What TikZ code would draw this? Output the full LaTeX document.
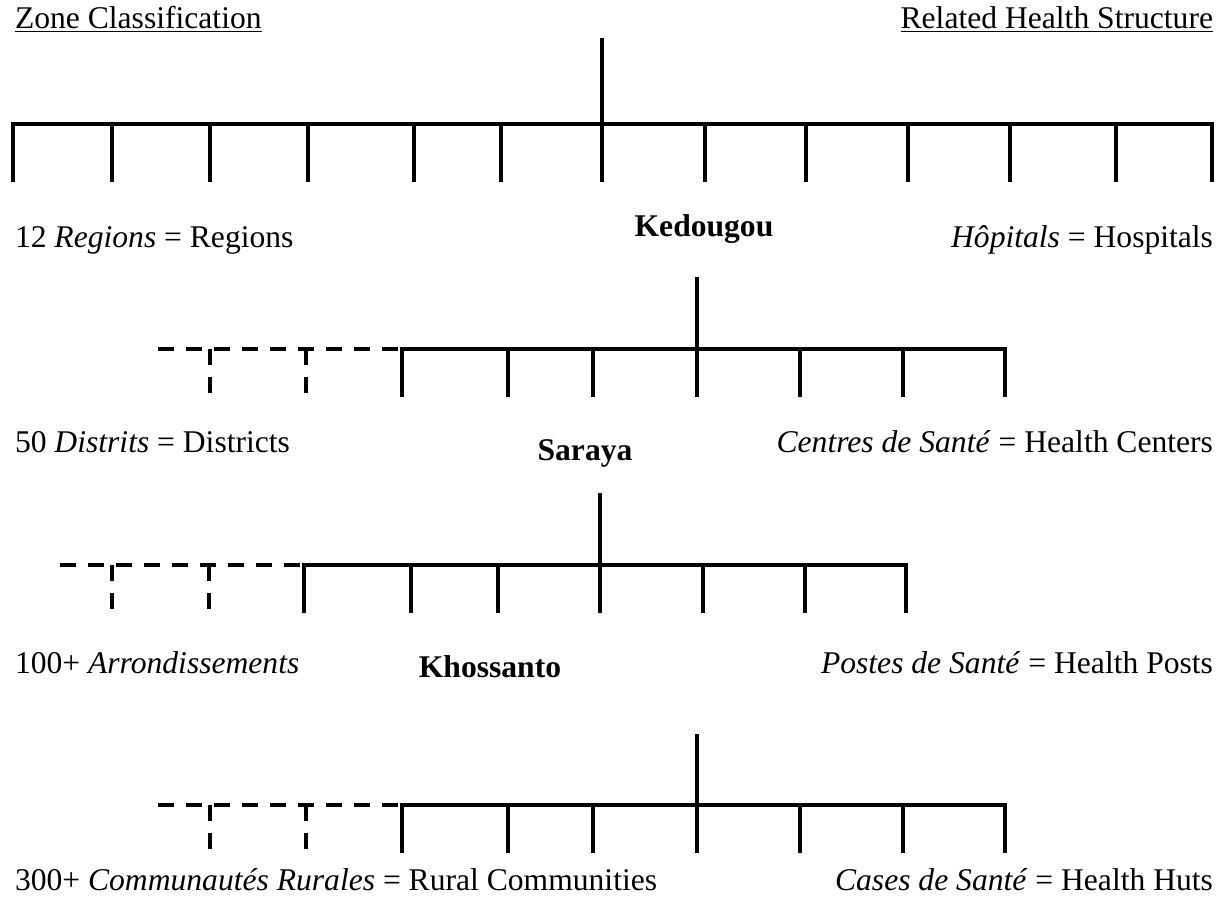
\documentclass[tikz,border=0pt]{standalone}
\usepackage{fontspec}
\setmainfont{Liberation Serif}
\usepackage{tikz}

\begin{document}
\begin{tikzpicture}[x=0.5pt,y=-0.5pt,line width=2pt,
		every node/.style={inner sep=0pt,font=\fontsize{15.8}{19}\selectfont},
		dsh/.style={dash pattern=on 8pt off 6pt}]
		\useasboundingbox (0,0) rectangle (1231,901);
		% levels: top of stem, bar, end of drops
		\def\ta{38}
		\def\ba{124}
		\def\da{182}
		\def\tb{277}
		\def\bb{349}
		\def\db{397}
		\def\tc{493}
		\def\bc{565}
		\def\dc{613}
		\def\td{734}
		\def\bd{805}
		\def\dd{853}
		% headings
		\node[anchor=base west] (zone) at (13,28) {\underline{Zone Classification}};
		\node[anchor=base east] (structure) at (1215,28) {\underline{Related Health Structure}};
		% regions
		\draw (602,\ta) -- (602,\ba);
		\draw (13,\da) -- (13,\ba) -- (1212,\ba) -- (1212,\da);
		\foreach \x in {112,210,308,414,501,602,705,806,908,1010,1116}
			\draw (\x,\ba) -- (\x,\da);
		\node[anchor=base west] (regions) at (13,247) {12 \textit{Regions} = Regions};
		\node[anchor=base] (kedougou) at (704,236) {\textbf{Kedougou}};
		\node[anchor=base east] (hopitaux) at (1215,247) {\textit{Hôpitals} = Hospitals};
		% districts
		\draw (697,\tb) -- (697,\bb);
		\draw[dsh] (158,\bb) -- (402,\bb);
		\draw[dsh] (210,\bb) -- (210,\db);
		\draw[dsh] (306,\bb) -- (306,\db);
		\draw (402,\db) -- (402,\bb) -- (1005,\bb) -- (1005,\db);
		\foreach \x in {508,593,697,800,903}
			\draw (\x,\bb) -- (\x,\db);
		\node[anchor=base west] (districts) at (13,452) {50 \textit{Distrits} = Districts};
		\node[anchor=base] (saraya) at (585,460) {\textbf{Saraya}};
		\node[anchor=base east] (centres) at (1215,452) {\textit{Centres de Santé} = Health Centers};
		% arrondissements
		\draw (600,\tc) -- (600,\bc);
		\draw[dsh] (60,\bc) -- (304,\bc);
		\draw[dsh] (112,\bc) -- (112,\dc);
		\draw[dsh] (209,\bc) -- (209,\dc);
		\draw (304,\dc) -- (304,\bc) -- (906,\bc) -- (906,\dc);
		\foreach \x in {411,498,600,703,805}
			\draw (\x,\bc) -- (\x,\dc);
		\node[anchor=base west] (arrond) at (13,673) {100+ \textit{Arrondissements}};
		\node[anchor=base] (khossanto) at (490,677) {\textbf{Khossanto}};
		\node[anchor=base east] (postes) at (1215,673) {\textit{Postes de Santé} = Health Posts};
		% rural communities
		\draw (697,\td) -- (697,\bd);
		\draw[dsh] (158,\bd) -- (402,\bd);
		\draw[dsh] (210,\bd) -- (210,\dd);
		\draw[dsh] (306,\bd) -- (306,\dd);
		\draw (402,\dd) -- (402,\bd) -- (1005,\bd) -- (1005,\dd);
		\foreach \x in {508,593,697,800,903}
			\draw (\x,\bd) -- (\x,\dd);
		\node[anchor=base west] (communautes) at (13,890) {300+ \textit{Communautés Rurales} = Rural Communities};
		\node[anchor=base east] (cases) at (1215,890) {\textit{Cases de Santé} = Health Huts};
\end{tikzpicture}
\end{document}
